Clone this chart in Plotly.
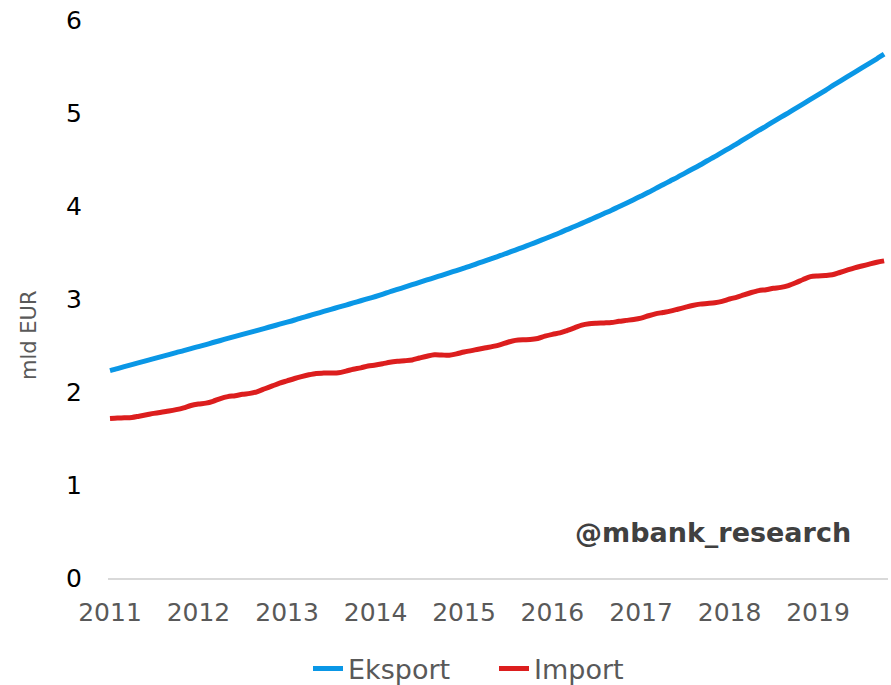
import pandas as pd
import plotly.graph_objects as go

# Monthly data, Jan 2011 .. Oct 2019 (mld EUR)
start_month = "2011-01-01"
n_months = 106
months = pd.date_range(start_month, periods=n_months, freq="MS")

eksport = [
    2.230, 2.252, 2.273, 2.295, 2.316, 2.338, 2.359, 2.381, 2.402, 2.424, 2.445, 2.467,
    2.488, 2.510, 2.532, 2.554, 2.576, 2.598, 2.619, 2.641, 2.663, 2.685, 2.707, 2.729,
    2.751, 2.774, 2.797, 2.820, 2.843, 2.866, 2.889, 2.912, 2.935, 2.958, 2.981, 3.004,
    3.027, 3.052, 3.078, 3.103, 3.128, 3.154, 3.179, 3.205, 3.230, 3.255, 3.281, 3.306,
    3.332, 3.358, 3.385, 3.412, 3.440, 3.468, 3.497, 3.526, 3.556, 3.586, 3.617, 3.648,
    3.680, 3.713, 3.746, 3.779, 3.813, 3.848, 3.883, 3.919, 3.955, 3.992, 4.030, 4.068,
    4.107, 4.147, 4.187, 4.228, 4.269, 4.311, 4.354, 4.397, 4.441, 4.486, 4.531, 4.577,
    4.623, 4.670, 4.717, 4.765, 4.812, 4.859, 4.907, 4.955, 5.002, 5.050, 5.098, 5.146,
    5.194, 5.243, 5.291, 5.339, 5.388, 5.437, 5.485, 5.534, 5.583, 5.632,
]

import_ = [
    1.715, 1.720, 1.722, 1.726, 1.740, 1.755, 1.770, 1.783, 1.795, 1.810, 1.830, 1.855,
    1.870, 1.880, 1.900, 1.930, 1.950, 1.960, 1.975, 1.985, 2.005, 2.035, 2.065, 2.095,
    2.120, 2.145, 2.165, 2.185, 2.200, 2.203, 2.205, 2.208, 2.225, 2.245, 2.260, 2.280,
    2.290, 2.305, 2.320, 2.330, 2.336, 2.345, 2.365, 2.385, 2.400, 2.398, 2.395, 2.410,
    2.430, 2.445, 2.460, 2.475, 2.490, 2.510, 2.535, 2.555, 2.562, 2.564, 2.575, 2.600,
    2.620, 2.635, 2.660, 2.690, 2.720, 2.735, 2.740, 2.743, 2.747, 2.760, 2.770, 2.780,
    2.795, 2.820, 2.840, 2.855, 2.870, 2.890, 2.910, 2.930, 2.945, 2.952, 2.960, 2.975,
    3.000, 3.020, 3.045, 3.070, 3.090, 3.100, 3.115, 3.125, 3.145, 3.175, 3.210, 3.240,
    3.248, 3.252, 3.260, 3.285, 3.310, 3.335, 3.355, 3.375, 3.395, 3.410,
]

year_ticks = ["2011-01-01", "2012-01-01", "2013-01-01", "2014-01-01", "2015-01-01",
              "2016-01-01", "2017-01-01", "2018-01-01", "2019-01-01"]
year_labels = ["2011", "2012", "2013", "2014", "2015", "2016", "2017", "2018", "2019"]
y_ticks = [0, 1, 2, 3, 4, 5, 6]

FONT = "Verdana, DejaVu Sans, sans-serif"
BLUE = "#0A97E6"
RED = "#DC1E1E"

L, R, T, B = 108, 3, 20, 107
W, H = 891, 685
PW, PH = W - L - R, H - T - B


def px_x(px):
    return (px - L) / PW


def px_y(py):
    return (H - B - py) / PH


fig = go.Figure()
fig.add_trace(go.Scatter(x=months, y=eksport, name="Eksport", mode="lines",
                         line=dict(color=BLUE, width=5, shape="spline", smoothing=0.8)))
fig.add_trace(go.Scatter(x=months, y=import_, name="Import", mode="lines",
                         line=dict(color=RED, width=5, shape="spline", smoothing=0.8)))

fig.update_layout(
    width=W, height=H,
    margin=dict(l=L, r=R, t=T, b=B, autoexpand=False),
    paper_bgcolor="white", plot_bgcolor="white",
    font=dict(family=FONT, size=27, color="#595959"),
    showlegend=True,
    legend=dict(orientation="h", x=px_x(308), xanchor="left",
                y=px_y(669), yanchor="middle",
                entrywidth=141, entrywidthmode="pixels",
                font=dict(family=FONT, size=27, color="#595959"),
                bgcolor="rgba(0,0,0,0)"),
    xaxis=dict(
        type="date",
        range=["2010-12-23 18:00", "2019-10-17"],
        tickvals=year_ticks, ticktext=year_labels,
        showgrid=False, zeroline=False, automargin=False,
        showline=True, linecolor="#D9D9D9", linewidth=1.5,
        ticks="", ticklabelstandoff=11,
        tickfont=dict(family=FONT, size=25, color="#595959"),
    ),
    yaxis=dict(
        range=[0, 6], tickvals=y_ticks, automargin=False,
        showgrid=False, zeroline=False, showline=False,
        ticks="", ticklabelstandoff=25,
        tickfont=dict(family=FONT, size=25, color="#000000"),
    ),
    annotations=[
        dict(text="mld EUR", textangle=-90, xref="paper", yref="paper",
             x=px_x(29), y=px_y(335),
             xanchor="center", yanchor="middle", showarrow=False,
             font=dict(family=FONT, size=21, color="#595959")),
        dict(text="<b>@mbank_research</b>", xref="paper", yref="paper",
             x=px_x(853), y=px_y(532),
             xanchor="right", yanchor="middle", showarrow=False,
             font=dict(family=FONT, size=27, color="#404040")),
    ],
)

fig.write_html("out.html", config={"displayModeBar": False},
               post_script="document.body.style.margin='0px';")
